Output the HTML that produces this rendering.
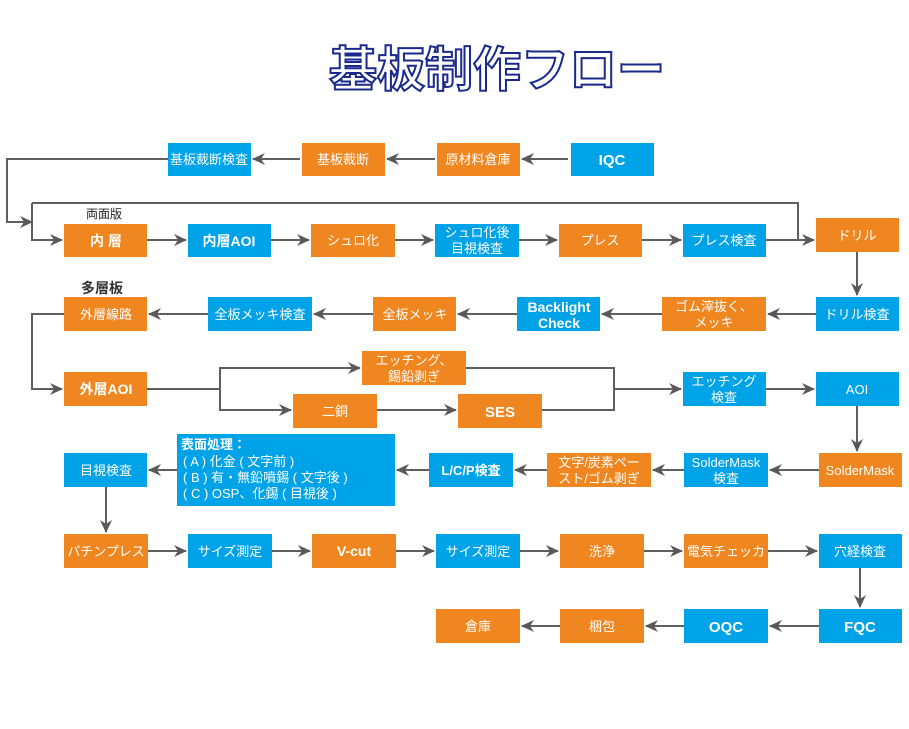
<!DOCTYPE html>
<html><head><meta charset="utf-8"><style>
body{margin:0;background:#fff;}
svg text{font-family:"Liberation Sans","Noto Sans CJK JP",sans-serif;}
</style></head><body>
<svg width="909" height="724" xmlns="http://www.w3.org/2000/svg">
<defs><marker id="a" markerWidth="13" markerHeight="12" refX="12" refY="6" orient="auto" markerUnits="userSpaceOnUse"><path d="M0,0 L13,6 L0,12 L4,6 z" fill="#595959"/></marker></defs>
<text x="497" y="86" text-anchor="middle" font-size="48" font-weight="bold" fill="#fff" stroke="#1a2a8c" stroke-width="2" style="font-family:'Noto Sans CJK JP',sans-serif">基板制作フロー</text>
<g stroke="#5f5f5f" stroke-width="2" fill="none">
<path d="M568,159 H522" marker-end="url(#a)"/>
<path d="M435,159 H387" marker-end="url(#a)"/>
<path d="M300,159 H253" marker-end="url(#a)"/>
<path d="M168,159 H7 V222 H32" marker-end="url(#a)"/>
<path d="M32,203 H798 V240"/>
<path d="M32,203 V240 H62" marker-end="url(#a)"/>
<path d="M147,240 H186" marker-end="url(#a)"/>
<path d="M271,240 H309" marker-end="url(#a)"/>
<path d="M395,240 H433" marker-end="url(#a)"/>
<path d="M519,240 H557" marker-end="url(#a)"/>
<path d="M642,240 H681" marker-end="url(#a)"/>
<path d="M766,240 H814" marker-end="url(#a)"/>
<path d="M857,252 V295" marker-end="url(#a)"/>
<path d="M816,314 H768" marker-end="url(#a)"/>
<path d="M662,314 H602" marker-end="url(#a)"/>
<path d="M517,314 H458" marker-end="url(#a)"/>
<path d="M373,314 H314" marker-end="url(#a)"/>
<path d="M208,314 H149" marker-end="url(#a)"/>
<path d="M64,314 H32 V389 H62" marker-end="url(#a)"/>
<path d="M147,389 H220 V368 H360" marker-end="url(#a)"/>
<path d="M220,389 V410 H291" marker-end="url(#a)"/>
<path d="M377,410 H456" marker-end="url(#a)"/>
<path d="M466,368 H614 V410 H542"/>
<path d="M614,389 H681" marker-end="url(#a)"/>
<path d="M766,389 H814" marker-end="url(#a)"/>
<path d="M857,406 V451" marker-end="url(#a)"/>
<path d="M819,470 H770" marker-end="url(#a)"/>
<path d="M684,470 H653" marker-end="url(#a)"/>
<path d="M547,470 H515" marker-end="url(#a)"/>
<path d="M429,470 H397" marker-end="url(#a)"/>
<path d="M177,470 H149" marker-end="url(#a)"/>
<path d="M106,487 V532" marker-end="url(#a)"/>
<path d="M148,551 H186" marker-end="url(#a)"/>
<path d="M272,551 H310" marker-end="url(#a)"/>
<path d="M396,551 H434" marker-end="url(#a)"/>
<path d="M520,551 H558" marker-end="url(#a)"/>
<path d="M644,551 H682" marker-end="url(#a)"/>
<path d="M768,551 H817" marker-end="url(#a)"/>
<path d="M860,568 V607" marker-end="url(#a)"/>
<path d="M819,626 H770" marker-end="url(#a)"/>
<path d="M684,626 H646" marker-end="url(#a)"/>
<path d="M560,626 H522" marker-end="url(#a)"/>
</g>
<g font-size="13" fill="#fff" text-anchor="middle">
<rect x="168" y="143" width="83" height="33" fill="#00a2e8"/><text x="209" y="164">基板裁断検査</text>
<rect x="302" y="143" width="83" height="33" fill="#f0861f"/><text x="343" y="164">基板裁断</text>
<rect x="437" y="143" width="83" height="33" fill="#f0861f"/><text x="478" y="164">原材料倉庫</text>
<rect x="571" y="143" width="83" height="33" fill="#00a2e8"/><text x="612" y="165" font-weight="bold" font-size="15">IQC</text>

<rect x="64" y="224" width="83" height="33" fill="#f0861f"/><text x="106" y="246" font-weight="bold" font-size="14">内 層</text>
<rect x="188" y="224" width="83" height="33" fill="#00a2e8"/><text x="229" y="246" font-weight="bold" font-size="14">内層AOI</text>
<rect x="311" y="224" width="84" height="33" fill="#f0861f"/><text x="353" y="245">シュロ化</text>
<rect x="435" y="224" width="84" height="33" fill="#00a2e8"/><text x="477" y="237">シュロ化後</text><text x="477" y="253">目視検査</text>
<rect x="559" y="224" width="83" height="33" fill="#f0861f"/><text x="600" y="245">プレス</text>
<rect x="683" y="224" width="83" height="33" fill="#00a2e8"/><text x="724" y="245">プレス検査</text>
<rect x="816" y="218" width="83" height="34" fill="#f0861f"/><text x="857" y="240">ドリル</text>

<rect x="64" y="297" width="83" height="34" fill="#f0861f"/><text x="106" y="319">外層線路</text>
<rect x="208" y="297" width="104" height="34" fill="#00a2e8"/><text x="260" y="319">全板メッキ検査</text>
<rect x="373" y="297" width="83" height="34" fill="#f0861f"/><text x="415" y="319">全板メッキ</text>
<rect x="517" y="297" width="83" height="34" fill="#00a2e8"/><text x="559" y="312" font-weight="bold" font-size="14">Backlight</text><text x="559" y="328" font-weight="bold" font-size="14">Check</text>
<rect x="662" y="297" width="104" height="34" fill="#f0861f"/><text x="714" y="311">ゴム滓抜く、</text><text x="714" y="327">メッキ</text>
<rect x="816" y="297" width="83" height="34" fill="#00a2e8"/><text x="857" y="319">ドリル検査</text>

<rect x="64" y="372" width="83" height="34" fill="#f0861f"/><text x="106" y="394" font-weight="bold" font-size="14">外層AOI</text>
<rect x="362" y="351" width="104" height="34" fill="#f0861f"/><text x="414" y="365">エッチング、</text><text x="414" y="381">錫鉛剥ぎ</text>
<rect x="293" y="394" width="84" height="34" fill="#f0861f"/><text x="335" y="416">二銅</text>
<rect x="458" y="394" width="84" height="34" fill="#f0861f"/><text x="500" y="417" font-weight="bold" font-size="15">SES</text>
<rect x="683" y="372" width="83" height="34" fill="#00a2e8"/><text x="724" y="386">エッチング</text><text x="724" y="402">検査</text>
<rect x="816" y="372" width="83" height="34" fill="#00a2e8"/><text x="857" y="394">AOI</text>

<rect x="64" y="453" width="83" height="34" fill="#00a2e8"/><text x="106" y="475">目視検査</text>
<rect x="177" y="434" width="218" height="72" fill="#00a2e8"/>
<g text-anchor="start"><text x="181" y="449" font-weight="bold">表面処理：</text><text x="183" y="466">( A ) 化金 ( 文字前 )</text><text x="183" y="482">( B ) 有・無鉛噴錫 ( 文字後 )</text><text x="183" y="498">( C ) OSP、化錫 ( 目視後 )</text></g>
<rect x="429" y="453" width="84" height="34" fill="#00a2e8"/><text x="471" y="475" font-weight="bold">L/C/P検査</text>
<rect x="547" y="453" width="104" height="34" fill="#f0861f"/><text x="599" y="467">文字/炭素ペー</text><text x="599" y="483">スト/ゴム剥ぎ</text>
<rect x="684" y="453" width="84" height="34" fill="#00a2e8"/><text x="726" y="467">SolderMask</text><text x="726" y="483">検査</text>
<rect x="819" y="453" width="83" height="34" fill="#f0861f"/><text x="860" y="475">SolderMask</text>

<rect x="64" y="534" width="84" height="34" fill="#f0861f"/><text x="106" y="556">パチンプレス</text>
<rect x="188" y="534" width="84" height="34" fill="#00a2e8"/><text x="230" y="556">サイズ測定</text>
<rect x="312" y="534" width="84" height="34" fill="#f0861f"/><text x="354" y="556" font-weight="bold" font-size="14">V-cut</text>
<rect x="436" y="534" width="84" height="34" fill="#00a2e8"/><text x="478" y="556">サイズ測定</text>
<rect x="560" y="534" width="84" height="34" fill="#f0861f"/><text x="602" y="556">洗浄</text>
<rect x="684" y="534" width="84" height="34" fill="#f0861f"/><text x="726" y="556">電気チェッカ</text>
<rect x="819" y="534" width="83" height="34" fill="#00a2e8"/><text x="860" y="556">穴経検査</text>

<rect x="436" y="609" width="84" height="34" fill="#f0861f"/><text x="478" y="631">倉庫</text>
<rect x="560" y="609" width="84" height="34" fill="#f0861f"/><text x="602" y="631">梱包</text>
<rect x="684" y="609" width="84" height="34" fill="#00a2e8"/><text x="726" y="632" font-weight="bold" font-size="15">OQC</text>
<rect x="819" y="609" width="83" height="34" fill="#00a2e8"/><text x="860" y="632" font-weight="bold" font-size="15">FQC</text>
</g>
<text x="104" y="218" font-size="12" text-anchor="middle" fill="#222">両面版</text>
<text x="102" y="293" font-size="14" font-weight="bold" text-anchor="middle" fill="#333">多層板</text>
</svg>
</body></html>
